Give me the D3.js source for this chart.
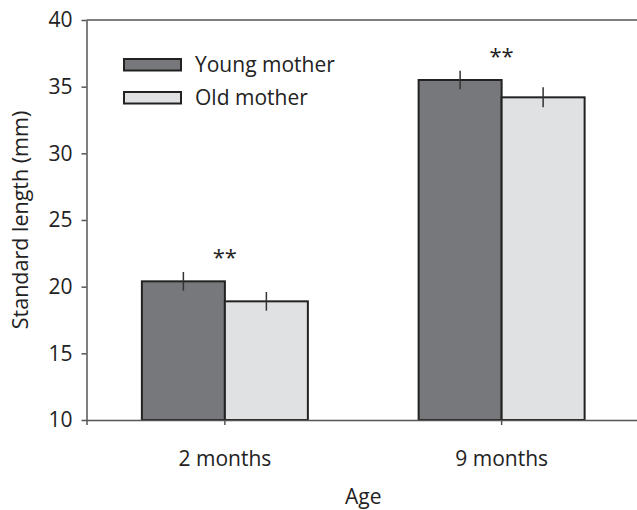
<!DOCTYPE html>
<html>
<head>
<meta charset="utf-8">
<script src="https://cdn.jsdelivr.net/npm/d3@7"></script>
<style>
  body { margin: 0; background: #fff; }
  text { font-family: "Open Sans", sans-serif; fill: #222; }
</style>
</head>
<body>
<div id="chart"></div>
<script>
// data
var ages = ["2 months", "9 months"];
var groups = ["Young mother", "Old mother"];
var youngMean = [20.4, 35.5];
var youngErr = [0.7, 0.7];
var oldMean = [18.9, 34.2];
var oldErr = [0.7, 0.75];
var signif = ["**", "**"];
var yTicks = [10, 15, 20, 25, 30, 35, 40];

var width = 637, height = 510;
var margin = {top: 20, right: -3, bottom: 90, left: 86.5};
var innerW = width - margin.left - margin.right,
    innerH = height - margin.top - margin.bottom;

var colors = {"Young mother": "#77787b", "Old mother": "#e0e1e3"};
var fs = "21px";

var rows = [];
ages.forEach(function(a, i) {
    rows.push({age: a, group: "Young mother", mean: youngMean[i], err: youngErr[i]});
    rows.push({age: a, group: "Old mother", mean: oldMean[i], err: oldErr[i]});
});

var svg = d3.select("#chart").append("svg")
    .attr("width", width)
    .attr("height", height);

var g = svg.append("g")
    .attr("transform", "translate(" + margin.left + "," + margin.top + ")");

var x = d3.scaleBand().domain(ages).range([0, innerW]);
var xg = d3.scaleBand().domain(groups).range([0, 166]);
var y = d3.scaleLinear().domain([10, 40]).range([innerH, 0]);

var off = x.bandwidth() / 2 - xg.range()[1] / 2;

// top line
g.append("line")
    .attr("x1", 0).attr("x2", innerW)
    .attr("y1", 0).attr("y2", 0)
    .attr("stroke", "#555").attr("stroke-width", 1.5);

// bars
g.selectAll(".bar")
    .data(rows)
    .enter().append("rect")
    .attr("class", "bar")
    .attr("x", function(d) { return x(d.age) + off + xg(d.group); })
    .attr("width", xg.bandwidth())
    .attr("y", function(d) { return y(d.mean); })
    .attr("height", function(d) { return innerH - y(d.mean); })
    .attr("fill", function(d) { return colors[d.group]; })
    .attr("stroke", "#222")
    .attr("stroke-width", 2);

// error bars
g.selectAll(".err")
    .data(rows)
    .enter().append("line")
    .attr("class", "err")
    .attr("x1", function(d) { return x(d.age) + off + xg(d.group) + xg.bandwidth() / 2; })
    .attr("x2", function(d) { return x(d.age) + off + xg(d.group) + xg.bandwidth() / 2; })
    .attr("y1", function(d) { return y(d.mean + d.err); })
    .attr("y2", function(d) { return y(d.mean - d.err); })
    .attr("stroke", "#333")
    .attr("stroke-width", 1.5);

// significance stars
g.selectAll(".star")
    .data(ages)
    .enter().append("text")
    .attr("class", "star")
    .attr("x", function(d) { return x(d) + x.bandwidth() / 2; })
    .attr("y", function(d, i) {
        var top = Math.max(youngMean[i] + youngErr[i], oldMean[i] + oldErr[i]);
        return y(top) - 7;
    })
    .attr("text-anchor", "middle")
    .attr("font-size", "22px")
    .text(function(d, i) { return signif[i]; });

// x axis
var xAxis = g.append("g")
    .attr("transform", "translate(0," + innerH + ")")
    .call(d3.axisBottom(x).tickSize(5).tickPadding(26));
xAxis.select(".domain").attr("stroke", "#555").attr("stroke-width", 1.5);
xAxis.selectAll(".tick line").attr("stroke", "#555").attr("stroke-width", 1.5);
xAxis.selectAll("text").attr("font-size", fs).attr("font-family", "Open Sans, sans-serif").attr("fill", "#222");

// y axis
var yAxis = g.append("g")
    .call(d3.axisLeft(y).tickValues(yTicks).tickSize(5).tickPadding(9).tickSizeOuter(0));
yAxis.select(".domain").attr("stroke", "#555").attr("stroke-width", 1.5);
yAxis.selectAll(".tick line").attr("stroke", "#555").attr("stroke-width", 1.5);
yAxis.selectAll("text").attr("font-size", fs).attr("font-family", "Open Sans, sans-serif").attr("fill", "#222");

// axis titles
svg.append("text")
    .attr("x", margin.left + innerW / 2)
    .attr("y", 504)
    .attr("text-anchor", "middle")
    .attr("font-size", fs)
    .text("Age");

svg.append("text")
    .attr("transform", "translate(28,220) rotate(-90)")
    .attr("text-anchor", "middle")
    .attr("font-size", "21.5px")
    .text("Standard length (mm)");

// legend
var legend = svg.append("g")
    .selectAll("g")
    .data(groups)
    .enter().append("g")
    .attr("transform", function(d, i) { return "translate(124," + (59 + i * 33) + ")"; });

legend.append("rect")
    .attr("width", 57)
    .attr("height", 11.5)
    .attr("fill", function(d) { return colors[d]; })
    .attr("stroke", "#222")
    .attr("stroke-width", 2);

legend.append("text")
    .attr("x", 71)
    .attr("y", 6)
    .attr("dy", "0.35em")
    .attr("font-size", fs)
    .text(function(d) { return d; });
</script>
</body>
</html>
